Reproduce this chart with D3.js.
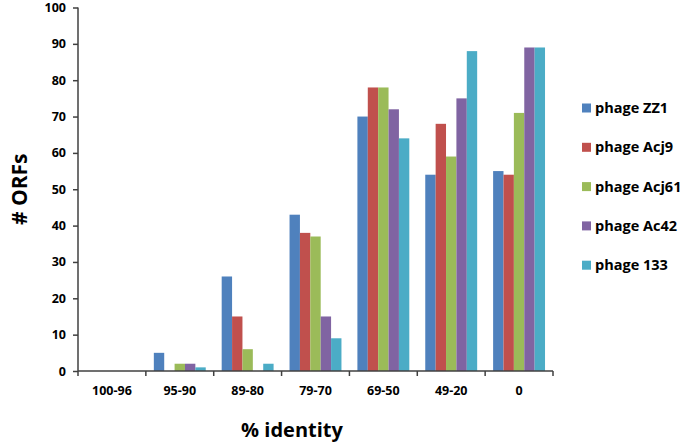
<!DOCTYPE html>
<html>
<head>
<meta charset="utf-8">
<script src="https://cdn.jsdelivr.net/npm/d3@7"></script>
<style>
body { margin: 0; background: #fff; }
text { font-family: "Open Sans", "DejaVu Sans", sans-serif; font-weight: bold; fill: #000; }
</style>
</head>
<body>
<script>
var categories = ["100-96", "95-90", "89-80", "79-70", "69-50", "49-20", "0"];
var seriesNames = ["phage ZZ1", "phage Acj9", "phage Acj61", "phage Ac42", "phage 133"];
var colors = ["#4F81BD", "#C0504D", "#9BBB59", "#8064A2", "#4BACC6"];
var zz1   = [0, 5, 26, 43, 70, 54, 55];
var acj9  = [0, 0, 15, 38, 78, 68, 54];
var acj61 = [0, 2, 6, 37, 78, 59, 71];
var ac42  = [0, 2, 0, 15, 72, 75, 89];
var p133  = [0, 1, 2, 9, 64, 88, 89];
var yTicks = [0, 10, 20, 30, 40, 50, 60, 70, 80, 90, 100];

var values = [zz1, acj9, acj61, ac42, p133];

var width = 685, height = 445;
var plotLeft = 78, plotRight = 553, plotTop = 7.5, plotBottom = 371;

var svg = d3.select("body")
    .append("svg")
    .attr("width", width)
    .attr("height", height);

var x = d3.scaleBand()
    .domain(categories)
    .range([plotLeft, plotRight])
    .paddingInner(0.235)
    .paddingOuter(0.1175);

var xOuter = d3.scaleBand()
    .domain(categories)
    .range([plotLeft, plotRight]);

var xs = d3.scaleBand()
    .domain(d3.range(seriesNames.length))
    .range([0, x.bandwidth()]);

var y = d3.scaleLinear()
    .domain([0, 100])
    .range([plotBottom, plotTop]);

// bars
var groups = svg.append("g")
    .selectAll("g")
    .data(categories)
    .enter().append("g")
    .attr("transform", function(d) { return "translate(" + x(d) + ",0)"; });

groups.selectAll("rect")
    .data(function(d, i) {
        return values.map(function(v, s) { return {s: s, v: v[i]}; });
    })
    .enter().append("rect")
    .attr("x", function(d) { return xs(d.s); })
    .attr("width", xs.bandwidth())
    .attr("y", function(d) { return y(d.v); })
    .attr("height", function(d) { return plotBottom - y(d.v); })
    .attr("fill", function(d) { return colors[d.s]; });

// y axis
var yAxis = svg.append("g")
    .attr("transform", "translate(" + plotLeft + ",0)")
    .call(d3.axisLeft(y).tickValues(yTicks).tickSize(5).tickPadding(7));
yAxis.selectAll("text").style("font-size", "12.5px");

// x axis
var xAxis = svg.append("g")
    .attr("transform", "translate(0," + plotBottom + ")")
    .call(d3.axisBottom(xOuter).tickSize(0).tickPadding(15));
xAxis.selectAll("text").style("font-size", "12.5px");
xAxis.selectAll(".tick").append("line")
    .attr("x1", xOuter.bandwidth() / 2).attr("x2", xOuter.bandwidth() / 2)
    .attr("y1", 0).attr("y2", 5)
    .attr("stroke", "#404040").attr("stroke-width", 1.5);
xAxis.append("line")
    .attr("x1", plotLeft).attr("x2", plotLeft)
    .attr("y1", 0).attr("y2", 5)
    .attr("stroke", "#404040").attr("stroke-width", 1.5);

svg.selectAll(".domain").attr("stroke", "#404040").attr("stroke-width", 1.5);
yAxis.selectAll(".tick line").attr("stroke", "#404040").attr("stroke-width", 1.5);
xAxis.select(".domain").attr("d", "M" + plotLeft + ",0H" + plotRight);
yAxis.select(".domain").attr("d", "M0," + plotBottom + "V" + plotTop);

// axis titles
svg.append("text")
    .attr("transform", "translate(20," + ((plotTop + plotBottom) / 2) + ") rotate(-90)")
    .attr("text-anchor", "middle")
    .attr("dy", "0.35em")
    .style("font-size", "21px")
    .text("# ORFs");

svg.append("text")
    .attr("x", 292)
    .attr("y", 437)
    .attr("text-anchor", "middle")
    .style("font-size", "20px")
    .text("% identity");

// legend
var legend = svg.append("g")
    .selectAll("g")
    .data(seriesNames)
    .enter().append("g")
    .attr("transform", function(d, i) { return "translate(582," + (108 + i * 39.3) + ")"; });

legend.append("rect")
    .attr("x", 0).attr("y", -4.5)
    .attr("width", 9).attr("height", 9)
    .attr("fill", function(d, i) { return colors[i]; });

legend.append("text")
    .attr("x", 13)
    .attr("dy", "0.35em")
    .style("font-size", "14.5px")
    .text(function(d) { return d; });
</script>
</body>
</html>
